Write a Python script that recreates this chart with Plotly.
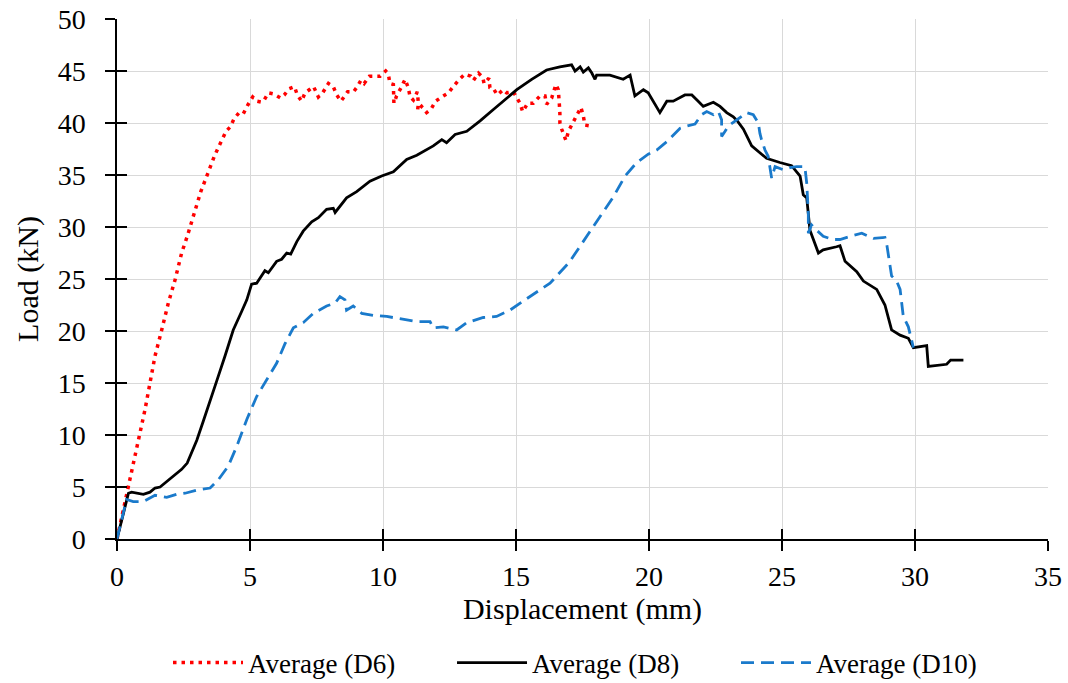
import plotly.graph_objects as go

# ---------------- data ----------------
d6_x = [0, 0.43, 0.61, 0.83, 1.05, 1.24, 1.43, 1.68, 1.93, 2.18, 2.43, 2.64, 2.83, 2.93, 3.03, 3.15,
        3.27, 3.40, 3.53, 3.66, 3.80, 3.95, 4.10, 4.25, 4.40, 4.59, 4.75, 4.91, 5.10, 5.25, 5.44,
        5.53, 5.69, 5.88, 6.00, 6.15, 6.29, 6.47, 6.67, 6.78, 6.94, 7.07, 7.23, 7.39, 7.57, 7.73,
        7.95, 8.13, 8.26, 8.42, 8.67, 8.89, 9.01, 9.17, 9.29, 9.49, 9.70, 9.89, 10.10, 10.20, 10.26,
        10.39, 10.41, 10.51, 10.68, 10.83, 10.95, 11.02, 11.14, 11.29, 11.33, 11.30, 11.45, 11.64,
        11.80, 11.98, 12.21, 12.46, 12.64, 12.87, 13.08, 13.30, 13.40, 13.59, 13.75, 13.80, 13.98,
        14.02, 14.15, 14.30, 14.52, 14.65, 14.90, 15.15, 15.25, 15.44, 15.65, 15.90, 16.09, 16.15,
        16.34, 16.50, 16.59, 16.63, 16.63, 16.65, 16.65, 16.72, 16.78, 16.88, 16.97, 17.13, 17.28,
        17.44, 17.53, 17.59, 17.85]
d6_y = [0, 5.0, 7.3, 9.9, 12.4, 15.0, 17.6, 20.1, 22.7, 24.9, 27.5, 29.1, 30.8, 31.7, 32.5, 33.4,
        34.2, 35.1, 35.9, 36.8, 37.6, 38.4, 39.2, 39.6, 40.4, 41.0, 40.9, 41.7, 42.5, 42.1, 42.0,
        42.2, 42.9, 42.8, 42.6, 42.4, 42.7, 43.3, 43.5, 42.7, 42.1, 42.9, 43.2, 43.5, 42.5, 42.9,
        43.8, 43.5, 42.7, 42.1, 43.0, 43.0, 43.4, 44.1, 43.8, 44.5, 44.5, 44.5, 45.0, 44.7, 43.8,
        43.7, 41.9, 42.6, 43.4, 44.2, 43.4, 42.5, 42.2, 43.0, 41.9, 41.2, 41.6, 41.0,
        41.3, 42.1, 42.5, 42.9, 43.5, 44.2, 44.7, 44.5, 44.1, 44.8, 44.4, 43.8, 44.3,
        43.4, 43.3, 42.7, 43.2, 42.9, 43.0, 41.9, 41.1, 41.9, 41.9, 42.6, 42.6, 41.8,
        42.4, 43.7, 43.2, 42.3, 41.8, 40.9, 40.0, 39.4, 39.0, 38.3, 39.2, 40.0, 40.7,
        41.5, 40.7, 39.8, 39.7]

d8_x = [0, 0.43, 0.55, 0.99, 1.24, 1.43, 1.62, 1.87, 2.18, 2.43, 2.64, 2.81, 3.00, 3.24, 3.50,
        3.75, 4.06, 4.37, 4.69, 4.88, 5.06, 5.25, 5.56, 5.69, 6.00, 6.19, 6.38, 6.53, 6.76, 7.00,
        7.32, 7.57, 7.88, 8.13, 8.20, 8.38, 8.63, 9.01, 9.51, 9.95, 10.39, 10.89, 11.27, 11.89,
        12.21, 12.39, 12.71, 13.15, 13.65, 14.15, 14.65, 15.03, 15.59, 16.15, 16.65, 17.09, 17.22,
        17.41, 17.53, 17.72, 17.85, 17.97, 18.03, 18.53, 19.03, 19.29, 19.47, 19.79, 19.97, 20.41,
        20.67, 20.91, 21.35, 21.61, 21.85, 22.04, 22.42, 22.67, 22.92, 23.17, 23.32, 23.55, 23.86,
        24.42, 24.92, 25.36, 25.68, 25.80, 25.93, 26.05, 26.37, 26.55, 27.05, 27.18, 27.37, 27.81,
        28.06, 28.56, 28.87, 29.12, 29.44, 29.75, 29.94, 30.44, 30.50, 31.19, 31.34, 31.82]
d8_y = [0, 4.4, 4.5, 4.3, 4.5, 4.9, 5.0, 5.5, 6.2, 6.7, 7.3, 8.3, 9.5, 11.3, 13.2,
        15.2, 17.6, 20.1, 21.9, 23.0, 24.5, 24.6, 25.8, 25.6, 26.7, 26.9, 27.5, 27.4, 28.6, 29.6,
        30.5, 30.9, 31.7, 31.8, 31.4, 32.0, 32.8, 33.4, 34.4, 34.9, 35.3, 36.5, 36.9, 37.8,
        38.4, 38.1, 38.9, 39.2, 40.2, 41.3, 42.4, 43.2, 44.2, 45.1, 45.4, 45.6, 45.0,
        45.4, 44.9, 45.3, 44.8, 44.2, 44.6, 44.6, 44.2, 44.6, 42.6, 43.2, 42.9, 41.0,
        42.1, 42.1, 42.7, 42.7, 42.1, 41.6, 42.0, 41.6, 41.0, 40.6, 40.2, 39.4, 37.8,
        36.6, 36.2, 35.9, 34.9, 33.1, 32.8, 29.7, 27.5, 27.8, 28.1, 28.2, 26.7, 25.7,
        24.8, 24.0, 22.5, 20.1, 19.6, 19.3, 18.4, 18.6, 16.6, 16.8, 17.2, 17.2]

d10_x = [0, 0.36, 0.61, 0.99, 1.43, 1.87, 2.24, 2.56, 3.00, 3.50, 3.81, 4.18, 4.50, 4.88, 5.25,
         5.63, 6.00, 6.32, 6.63, 7.00, 7.38, 7.88, 8.20, 8.38, 8.57, 8.63, 8.88, 9.20, 9.64, 10.14,
         10.64, 11.27, 11.77, 11.89, 12.27, 12.77, 13.15, 13.77, 14.27, 14.77, 15.40, 16.28, 17.00,
         17.66, 18.16, 18.66, 19.10, 19.54, 19.97, 20.29, 20.67, 21.17, 21.42, 21.73, 21.98, 22.17,
         22.42, 22.61, 22.73, 22.73, 22.86, 22.98, 23.30, 23.67, 23.92, 24.11, 24.17, 24.23, 24.36,
         24.48, 24.61, 24.74, 25.05, 25.30, 25.55, 25.86, 25.93, 25.99, 25.99, 26.11, 26.30, 26.55,
         26.92, 27.18, 27.56, 28.00, 28.44, 28.87, 28.94, 29.06, 29.12, 29.31, 29.44, 29.56, 29.75,
         29.94]
d10_y = [0, 3.8, 3.6, 3.6, 4.2, 4.0, 4.3, 4.4, 4.7, 4.9, 5.7, 7.0, 8.9, 11.5, 13.7,
         15.3, 16.9, 18.8, 20.3, 20.8, 21.7, 22.4, 22.7, 23.3, 23.0, 22.0, 22.4, 21.7, 21.5, 21.4,
         21.2, 20.9, 20.9, 20.3, 20.4, 20.1, 20.8, 21.3, 21.4, 22.0, 23.1, 24.6, 26.6,
         29.1, 31.0, 32.9, 34.9, 36.2, 37.0, 37.4, 38.2, 39.5, 39.7, 39.9, 40.8, 41.1,
         40.8, 41.1, 40.3, 38.7, 39.2, 39.7, 40.3, 41.0, 40.8, 40.0, 39.0, 38.4, 37.4,
         36.8, 34.7, 35.8, 35.5, 35.7, 35.8, 35.8, 34.2, 31.3, 29.4, 30.2, 29.7, 29.1,
         28.8, 28.8, 29.1, 29.4, 28.9, 29.0, 28.3, 26.5, 25.3, 24.8, 24.0, 21.4, 20.4,
         18.4]

x_ticks = [0, 5, 10, 15, 20, 25, 30, 35]
y_ticks = [0, 5, 10, 15, 20, 25, 30, 35, 40, 45, 50]

FONT = "Liberation Serif, Times New Roman, serif"

fig = go.Figure()
fig.add_trace(go.Scatter(x=d6_x, y=d6_y, mode="lines", name="Average (D6)",
                         line=dict(color="#ff0000", width=3.5, dash="3.5px,5px")))
fig.add_trace(go.Scatter(x=d8_x, y=d8_y, mode="lines", name="Average (D8)",
                         line=dict(color="#000000", width=2.8)))
fig.add_trace(go.Scatter(x=d10_x, y=d10_y, mode="lines", name="Average (D10)",
                         line=dict(color="#1a7acb", width=2.8, dash="13px,7px")))
# invisible trace to activate overlay axes (for crossing tick marks)
fig.add_trace(go.Scatter(x=[0], y=[0], xaxis="x2", yaxis="y2", mode="markers",
                         marker=dict(opacity=0), showlegend=False, hoverinfo="skip"))

axis_common = dict(showline=True, linecolor="black", linewidth=1.5,
                   ticks="outside", ticklen=10, tickwidth=1.5, tickcolor="black",
                   showgrid=True, gridcolor="#d9d9d9", gridwidth=1.3,
                   zeroline=False, ticklabeloverflow="allow",
                   tickfont=dict(family=FONT, size=28, color="black"))

fig.update_layout(
    width=1068, height=683,
    margin=dict(l=117, r=20, t=19, b=144, autoexpand=False),
    paper_bgcolor="white", plot_bgcolor="white",
    font=dict(family=FONT, color="black"),
    hovermode=False,
    xaxis=dict(range=[0, 35], tickvals=x_ticks, **axis_common, ticklabelstandoff=2,
               title=dict(text="Displacement (mm)", font=dict(family=FONT, size=30), standoff=0)),
    yaxis=dict(range=[0, 50], tickvals=y_ticks, **axis_common, ticklabelstandoff=14,
               title=dict(text="Load (kN)", font=dict(family=FONT, size=30), standoff=10)),
    xaxis2=dict(range=[0, 35], tickvals=x_ticks, overlaying="x", showticklabels=False,
                ticks="inside", ticklen=10, tickwidth=1.5, tickcolor="black",
                showgrid=False, zeroline=False, showline=False),
    yaxis2=dict(range=[0, 50], tickvals=y_ticks, overlaying="y", showticklabels=False,
                ticks="inside", ticklen=10, tickwidth=1.5, tickcolor="black",
                showgrid=False, zeroline=False, showline=False),
    legend=dict(orientation="h", x=0.0548, xanchor="left", y=-0.2385, yanchor="middle",
                font=dict(family=FONT, size=27, color="black"),
                itemwidth=70, tracegroupgap=0, entrywidthmode="pixels", entrywidth=199,
                bgcolor="rgba(0,0,0,0)"),
    showlegend=True,
)

fig.write_html("out.html", config={"displayModeBar": False},
               post_script="document.body.style.margin='0';document.body.style.overflow='hidden';")
